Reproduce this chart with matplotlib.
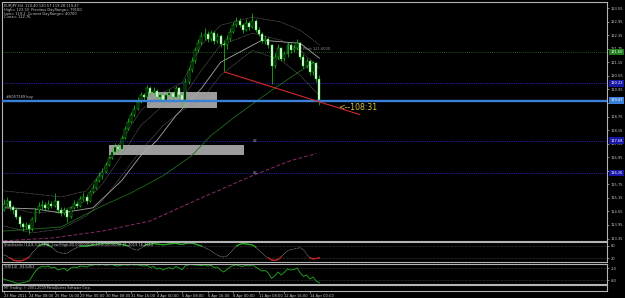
import matplotlib
matplotlib.use('Agg')
import matplotlib.pyplot as plt
import numpy as np
from matplotlib.patches import Rectangle


# ---- data ----
header_lines = ['EURJPY,H4  120.40 120.57 119.28 119.47',
                'High= 123.33  Previous DayRange= 79100',
                'Low= 119.2  Current DayRange= 40700',
                'Close= 122.76']

first_open = 114.60
closes = [114.90, 115.00, 114.75, 114.60, 114.30, 114.00, 113.85, 113.95, 113.75, 114.20,
          114.60, 114.80, 114.85, 114.70, 114.90, 114.80, 115.00, 114.60, 114.50, 114.60,
          114.30, 114.70, 114.90, 114.80, 115.10, 115.20, 115.00, 115.40, 115.60, 115.90,
          116.10, 116.30, 116.60, 116.90, 117.20, 117.40, 117.30, 117.80, 118.20, 118.50,
          118.80, 119.10, 119.40, 119.70, 119.60, 120.00, 119.80, 119.90, 119.60, 119.70,
          119.50, 119.70, 119.80, 119.60, 120.00, 119.70, 119.50, 120.30, 120.80, 121.20,
          121.70, 122.00, 122.30, 122.40, 122.20, 122.45, 122.10, 122.30, 121.95, 121.90,
          122.20, 122.50, 122.80, 123.00, 122.80, 122.60, 122.90, 122.70, 123.00, 122.60,
          122.40, 122.10, 122.20, 121.90, 121.00, 121.40, 121.80, 121.30, 121.50, 121.90,
          121.70, 121.80, 122.00, 121.40, 121.00, 121.20, 120.70, 121.10, 120.40, 119.47]
highs = [115.10, 115.20, 115.05, 114.85, 114.70, 114.40, 114.10, 114.10, 114.05, 114.30,
         114.70, 114.95, 115.05, 114.95, 115.05, 115.00, 115.35, 115.05, 114.75, 114.75,
         114.65, 114.80, 115.05, 115.00, 115.25, 115.40, 115.30, 115.50, 115.75, 116.05,
         116.30, 116.45, 116.75, 117.05, 117.35, 117.60, 117.55, 117.95, 118.35, 118.70,
         118.95, 119.25, 119.60, 119.85, 119.80, 120.15, 120.10, 120.05, 119.95, 119.85,
         119.75, 119.80, 119.95, 119.85, 120.10, 120.05, 119.75, 120.45, 120.95, 121.40,
         121.85, 122.20, 122.50, 122.65, 122.55, 122.60, 122.55, 122.45, 122.40, 122.15,
         122.35, 122.65, 122.95, 123.15, 123.10, 122.90, 123.05, 123.00, 123.33, 123.05,
         122.70, 122.50, 122.35, 122.25, 121.95, 121.55, 121.95, 121.85, 121.65, 122.05,
         122.00, 121.95, 122.20, 122.05, 121.50, 121.35, 121.25, 121.20, 121.15, 120.57]
lows = [114.55, 114.80, 114.60, 114.45, 114.20, 113.85, 113.70, 113.75, 113.55, 113.70,
        114.10, 114.50, 114.65, 114.60, 114.65, 114.70, 114.75, 114.50, 114.35, 114.40,
        114.10, 114.25, 114.65, 114.70, 114.75, 115.00, 114.90, 114.95, 115.35, 115.55,
        115.85, 116.00, 116.25, 116.55, 116.85, 117.10, 117.15, 117.25, 117.75, 118.15,
        118.45, 118.75, 119.05, 119.35, 119.45, 119.55, 119.70, 119.70, 119.50, 119.50,
        119.35, 119.45, 119.65, 119.50, 119.55, 119.60, 119.20, 119.45, 120.20, 120.70,
        121.10, 121.60, 121.90, 122.15, 122.05, 122.10, 121.95, 122.00, 121.85, 120.75,
        121.75, 122.10, 122.45, 122.70, 122.70, 122.45, 122.55, 122.60, 122.65, 122.50,
        122.30, 122.00, 121.95, 121.80, 120.20, 120.90, 121.30, 121.20, 121.20, 121.40,
        121.55, 121.60, 121.70, 121.30, 120.90, 120.90, 120.60, 120.60, 120.30, 119.28]

# moving averages / bands, sampled at a few bars
band_bars = [0, 9, 18, 26, 31, 37, 43, 50, 56, 62, 68, 78, 87, 93, 99]
band_upper = [115.46, 115.33, 115.19, 115.46, 116.35, 117.68, 119.02, 119.82, 120.25, 121.91,
              122.79, 123.15, 122.93, 122.57, 121.91]
band_fast = [114.80, 114.48, 114.57, 115.02, 115.77, 117.02, 118.35, 119.24, 119.55, 120.79,
             121.91, 122.44, 122.13, 121.68, 120.88]
band_lower = [113.91, 113.60, 113.77, 114.35, 115.02, 116.13, 117.24, 118.35, 119.02, 119.46,
              120.57, 121.68, 121.24, 120.57, 119.68]
ma_mid_bars = [0, 10, 18, 28, 37, 43, 48, 54, 62, 68, 81, 93, 99]
ma_mid = [114.71, 114.66, 114.48, 114.71, 115.91, 117.02, 117.68, 118.79, 119.99, 121.15,
          122.13, 121.99, 121.33]
ma_green_bars = [0, 18, 31, 40, 50, 59, 65, 73, 84, 97]
ma_green = [113.68, 113.86, 114.80, 115.37, 116.13, 117.02, 117.91, 118.79, 119.91, 121.15]
ma_purple_bars = [0, 15, 31, 46, 62, 78, 90, 98]
ma_purple = [113.25, 113.37, 113.68, 114.13, 115.15, 116.13, 116.80, 117.11]

order_price = 119.45
order_label = '#6057189 buy'
pivot_price = 121.60
pivot_label = 'Pivot 121.6000'
support_prices = [120.22, 117.68, 116.26]
support_labels = ['', 'S2', 'S3']
bid_price = 119.47

boxes = [(44.8, 119.11, 22.0, 0.71), (32.9, 117.06, 42.5, 0.45)]  # bar, price, bars, price range
trend_bars = [69.3, 111.6]
trend_prices = [120.72, 118.84]
timer_text = '<--108:31'

price_ticks = [123.55, 122.95, 122.35, 121.75, 121.15, 120.55, 119.95, 119.35, 118.75,
               118.15, 117.55, 116.95, 116.35, 115.75, 115.15, 114.55, 113.95, 113.35]
# scale labels hidden under a coloured level box
covered_ticks = [116.35]

stoch = [35, 30, 20, 10, 6, 5, 8, 15, 25, 45,
         65, 80, 88, 90, 85, 75, 60, 50, 45, 42,
         45, 55, 65, 72, 78, 80, 78, 82, 86, 88,
         90, 92, 94, 93, 92, 94, 90, 88, 85, 80,
         70, 62, 60, 68, 80, 88, 90, 92, 90, 88,
         86, 88, 90, 92, 93, 90, 88, 92, 95, 94,
         90, 85, 80, 72, 65, 55, 45, 35, 28, 25,
         30, 45, 65, 80, 88, 92, 90, 88, 85, 75,
         60, 45, 30, 20, 10, 8, 12, 25, 40, 55,
         62, 65, 68, 72, 60, 40, 22, 15, 18, 21]
stoch_label = 'Stochastic (14,8,3,3,SMA, Low/High,80.00000000,20.00000000) 21.2019 16.3614'

wpr = [-75, -80, -85, -90, -95, -97, -93, -90, -85, -60,
       -35, -20, -12, -15, -10, -20, -15, -30, -25, -22,
       -35, -20, -15, -18, -10, -12, -15, -8, -5, -3,
       -5, -2, -6, -4, -3, -8, -10, -5, -4, -6,
       -3, -5, -4, -8, -10, -6, -18, -12, -25, -20,
       -30, -22, -18, -25, -12, -20, -28, -8, -4, -3,
       -5, -6, -8, -5, -10, -7, -18, -15, -30, -40,
       -28, -15, -8, -5, -10, -12, -6, -10, -4, -15,
       -25, -35, -32, -45, -72, -60, -40, -55, -42, -25,
       -30, -28, -20, -45, -62, -55, -75, -65, -85, -94]
wpr_label = '%R(14) -93.6452'
footer_label = 'MT Trading, \u00a9 2001-2009 MetaQuotes Software Corp.'

time_labels = ['23 Mar 2011', '24 Mar 08:00', '25 Mar 16:00', '29 Mar 00:00', '30 Mar 08:00',
               '31 Mar 16:00', '4 Apr 00:00', '5 Apr 08:00', '6 Apr 16:00', '8 Apr 00:00',
               '11 Apr 08:00', '12 Apr 16:00', '14 Apr 00:00']
bars_per_label = 8


# ---- style ----
W, H = 625, 298
bar_px = 3.19
fs = 2.6
txt_col = '#c8c8c8'
frame_col = '#b4b4b4'
candle_green = '#1fd11f'


def px_axes(fig, x0, y0, x1, y1):
    # pixel box (top-down) -> figure axes
    return fig.add_axes([x0 / W, 1 - y1 / H, (x1 - x0) / W, (y1 - y0) / H])


def style_panel(ax):
    ax.set_facecolor('black')
    for s in ax.spines.values():
        s.set_color(frame_col)
        s.set_linewidth(0.8)
    ax.set_xlim(-0.5, -0.5 + 605 / bar_px)
    ax.tick_params(axis='x', bottom=False, labelbottom=False)
    ax.yaxis.tick_right()
    ax.tick_params(axis='y', colors=frame_col, labelcolor=txt_col, labelsize=fs,
                   length=1.5, width=0.5, pad=1)


fig = plt.figure(figsize=(W / 100, H / 100), dpi=100, facecolor='black')

# ---- main price panel ----
ax = px_axes(fig, 2, 2, 607, 241)
style_panel(ax)
ax.set_ylim(113.24, 123.82)
ax.set_yticks(price_ticks)
ax.set_yticklabels(['' if p in covered_ticks else '%.2f' % p for p in price_ticks])

x = np.arange(len(closes))
opens = np.array([first_open] + closes[:-1])
c = np.array(closes)

for bx, by, bw, bh in boxes:
    ax.add_patch(Rectangle((bx, by), bw, bh, facecolor='#9c9c9c', edgecolor='none', zorder=1))

for p in support_prices:
    ax.axhline(p, color='#22229a', lw=0.8, ls=(0, (1, 1)), zorder=1)
ax.axhline(pivot_price, color='#1f7a1f', lw=0.6, ls=(0, (1, 1.5)), zorder=1)

ax.plot(ma_purple_bars, ma_purple, color='#8a2a6a', lw=0.7, ls=(0, (4, 2)), zorder=2)
ax.plot(ma_green_bars, ma_green, color='#1e6e1e', lw=0.6, zorder=2)
ax.plot(ma_mid_bars, ma_mid, color='#a8a8a8', lw=0.6, zorder=2)
for band in (band_upper, band_fast, band_lower):
    ax.plot(band_bars, band, color='#8c8c8c', lw=0.45, ls=(0, (1, 1)), zorder=2)

ax.vlines(x, lows, highs, color=candle_green, lw=0.5, zorder=3)
bull = c >= opens
face = np.where(bull, '#000000', '#ffffff')
bottoms = np.minimum(opens, c)
heights = np.maximum(np.abs(c - opens), 0.02)
ax.bar(x, heights, bottom=bottoms, width=0.62, color=face, edgecolor=candle_green,
       linewidth=0.35, zorder=4)

ax.axhline(order_price, color='#3a7fd8', lw=1.7, zorder=5)
ax.plot(trend_bars, trend_prices, color='#d42a2a', lw=0.8, zorder=6)

ax.text(0.8, order_price + 0.08, order_label, color=txt_col, fontsize=fs, va='bottom')
ax.text(94, pivot_price + 0.03, pivot_label, color='#8c8c8c', fontsize=fs, va='bottom')
for p, lab in zip(support_prices, support_labels):
    if lab:
        ax.text(78, p, lab, color='#b0b0d0', fontsize=fs, va='center')
ax.text(105, order_price - 0.3, timer_text, color='#d6c23a', fontsize=5.6, va='center')

for i, line in enumerate(header_lines):
    ax.text(0.003, 0.992 - i * 0.016, line, transform=ax.transAxes, color=txt_col,
            fontsize=fs, va='top')

# coloured price labels on the right scale
for p, col in [(pivot_price, '#1e7e1e'), (support_prices[0], '#1818a8'),
               (bid_price, '#3a7fd8'), (support_prices[1], '#1818a8'),
               (support_prices[2], '#1818a8')]:
    ax.annotate('%.2f' % p, xy=(1.0, p), xycoords=('axes fraction', 'data'),
                xytext=(2.5, 0), textcoords='offset points', va='center', ha='left',
                fontsize=fs, color='white',
                bbox=dict(boxstyle='square,pad=0.35', fc=col, ec='none'),
                annotation_clip=False)

# ---- stochastic panel ----
ax2 = px_axes(fig, 2, 242, 607, 262)
style_panel(ax2)
ax2.set_ylim(0, 100)
ax2.set_yticks([80, 20])
ax2.set_yticklabels(['80', '20'])
for lvl in (80, 20):
    ax2.axhline(lvl, color='#707070', lw=0.4, ls=(0, (1, 1.5)))
st = np.array(stoch, dtype=float)
ax2.plot(x, st, color='#bdbdbd', lw=0.5, ls=(0, (1, 1)))
ax2.plot(x, np.ma.masked_where(st < 75, st), color='#22b022', lw=0.9)
ax2.plot(x, np.ma.masked_where(st > 25, st), color='#d02020', lw=0.9)
ax2.text(0.003, 0.93, stoch_label, transform=ax2.transAxes, color=txt_col, fontsize=fs, va='top')

# ---- williams %R panel ----
ax3 = px_axes(fig, 2, 264, 607, 284)
style_panel(ax3)
ax3.set_ylim(-100, 0)
ax3.set_yticks([-20, -80])
ax3.set_yticklabels(['-20', '-80'])
for lvl in (-20, -80):
    ax3.axhline(lvl, color='#707070', lw=0.4, ls=(0, (1, 1.5)))
ax3.plot(x, wpr, color='#1f9a1f', lw=0.7)
ax3.text(0.003, 0.93, wpr_label, transform=ax3.transAxes, color=txt_col, fontsize=fs, va='top')

# ---- footer panel with time scale ----
ax4 = px_axes(fig, 2, 285, 607, 291)
style_panel(ax4)
ax4.set_yticks([])
ax4.text(0.003, 0.5, footer_label, transform=ax4.transAxes, color=txt_col, fontsize=fs * 0.9,
         va='center')
ax4.set_xticks([i * bars_per_label for i in range(len(time_labels))])
ax4.set_xticklabels(time_labels)
ax4.tick_params(axis='x', bottom=True, labelbottom=True, colors=frame_col, labelcolor=txt_col,
                labelsize=fs, length=1.5, width=0.5, pad=0.8)
for t in ax4.get_xticklabels():
    t.set_ha('left')

fig.savefig('out.png', dpi=100, facecolor='black')
